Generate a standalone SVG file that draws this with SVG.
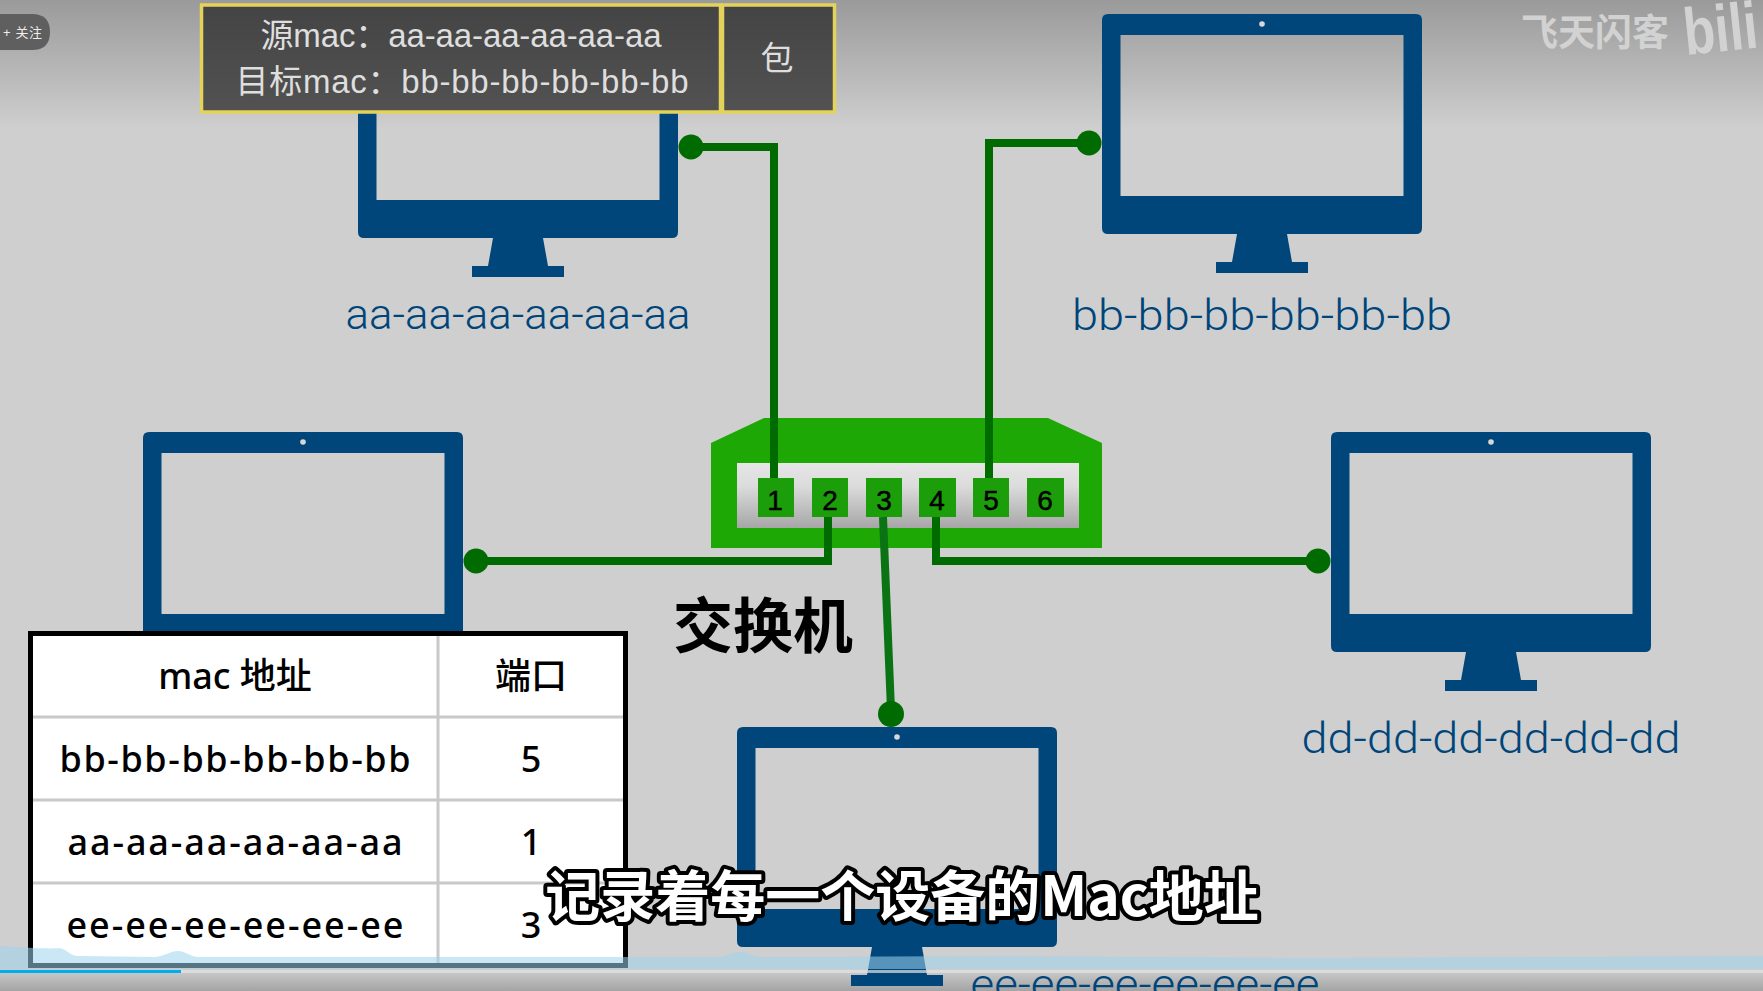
<svg xmlns="http://www.w3.org/2000/svg" width="1763" height="991" viewBox="0 0 1763 991">
<style>
.lbl{font-family:"Roboto","Liberation Sans",sans-serif;font-weight:300;font-size:43px;fill:#00457a;text-anchor:middle}
.cell{font-family:"Noto Sans","Noto Sans CJK SC",sans-serif;font-size:36px;font-weight:500;fill:#000;text-anchor:middle}
.pn{font-family:"Liberation Sans",sans-serif;font-size:28px;fill:#000;stroke:#000;stroke-width:0.500;text-anchor:middle}
.pk{font-family:"Liberation Sans","Noto Sans CJK SC",sans-serif;font-size:33px;fill:#dedede;text-anchor:middle}
.w{fill:none;stroke:#006b00;stroke-width:8}
.port{fill:#1b9e0a}
.dot{fill:#006b00}
.rule{stroke:#cac8c8;stroke-width:3;fill:none}
</style>
<defs>
<linearGradient id="bg" x1="0" y1="0" x2="0" y2="1"><stop offset="0" stop-color="#9a9a9a"/><stop offset="0.13" stop-color="#cfcfcf"/><stop offset="1" stop-color="#cfcfcf"/></linearGradient>
<linearGradient id="panel" x1="0" y1="0" x2="0" y2="1"><stop offset="0" stop-color="#e6e6e6"/><stop offset="0.35" stop-color="#dcdcdc"/><stop offset="1" stop-color="#a6a6a6"/></linearGradient>
<linearGradient id="box" x1="0" y1="0" x2="0" y2="1"><stop offset="0" stop-color="#444"/><stop offset="1" stop-color="#525252"/></linearGradient>
<linearGradient id="bar" x1="0" y1="0" x2="0" y2="1"><stop offset="0" stop-color="#d0d0d0"/><stop offset="1" stop-color="#a4a4a4"/></linearGradient>
<symbol id="mon" overflow="visible">
<path fill-rule="evenodd" fill="#00467a" d="M6 0H314Q320 0 320 6V214Q320 220 314 220H6Q0 220 0 214V6Q0 0 6 0ZM18.500 21V182H301.500V21Z"/>
<path fill="#00467a" d="M135 220H185L190 248H206V259H114V248H130Z"/>
<circle cx="160" cy="10" r="2.800" fill="#d8d8d8"/>
</symbol>
</defs>
<rect width="1763" height="991" fill="url(#bg)"/>
<rect y="968" width="1763" height="23" fill="url(#bar)"/>
<g id="watermark" fill="#d2d2d2">
<text x="1595" y="46" font-family="Noto Sans CJK SC,sans-serif" font-weight="700" font-size="37" text-anchor="middle">飞天闪客</text>
<text x="1686" y="55" font-family="Liberation Sans,sans-serif" font-weight="700" font-size="66" textLength="74" lengthAdjust="spacingAndGlyphs" transform="rotate(-6 1686 55)">bili</text>
</g>
<g id="mon-aa"><use href="#mon" x="358" y="18"/><text class="lbl" x="518" y="329" textLength="345" lengthAdjust="spacingAndGlyphs">aa-aa-aa-aa-aa-aa</text></g>
<g id="mon-bb"><use href="#mon" x="1102" y="14"/><text class="lbl" x="1262" y="330" textLength="380" lengthAdjust="spacingAndGlyphs">bb-bb-bb-bb-bb-bb</text></g>
<g id="mon-cc"><use href="#mon" x="143" y="432"/></g>
<g id="mon-dd"><use href="#mon" x="1331" y="432"/><text class="lbl" x="1491" y="753" textLength="379" lengthAdjust="spacingAndGlyphs">dd-dd-dd-dd-dd-dd</text></g>
<g id="mon-ee"><use href="#mon" x="737" y="727"/><text class="lbl" x="1145" y="999" textLength="349" lengthAdjust="spacingAndGlyphs">ee-ee-ee-ee-ee-ee</text></g>
<g id="switch">
<path fill="#1ea806" d="M711 443L764 418H1048L1102 443V548H711Z"/>
<rect x="737" y="463" width="342" height="65" fill="url(#panel)"/>
<rect class="port" x="758" y="478" width="36" height="39"/>
<rect class="port" x="812" y="478" width="36" height="39"/>
<rect class="port" x="866" y="478" width="36" height="39"/>
<rect class="port" x="919" y="478" width="37" height="39"/>
<rect class="port" x="973" y="478" width="36" height="39"/>
<rect class="port" x="1027" y="478" width="37" height="39"/>
<text class="pn" x="775" y="510">1</text><text class="pn" x="830" y="510">2</text><text class="pn" x="884" y="510">3</text><text class="pn" x="937" y="510">4</text><text class="pn" x="991" y="510">5</text><text class="pn" x="1045" y="510">6</text>
<text x="763" y="648" font-family="Noto Sans CJK SC,sans-serif" font-weight="700" font-size="60" text-anchor="middle" fill="#000">交换机</text>
</g>
<g id="connectors">
<path class="w" d="M691 147H774V478"/>
<circle class="dot" cx="691" cy="147" r="12.500"/>
<path class="w" d="M1089 143H989V478"/>
<circle class="dot" cx="1089" cy="143" r="12.500"/>
<path class="w" d="M476 561H828V517"/>
<circle class="dot" cx="476" cy="561" r="12.500"/>
<path class="w" d="M1318 561H936V517"/>
<circle class="dot" cx="1318" cy="561" r="12.500"/>
<path class="w" style="stroke:#0a7414" d="M883 517L891 710"/>
<circle class="dot" cx="891" cy="714" r="13"/>
</g>
<g id="packet">
<rect x="201.500" y="5" width="519" height="107" fill="url(#box)" stroke="#e3d35c" stroke-width="3.500"/>
<rect x="722.500" y="5" width="112" height="107" fill="url(#box)" stroke="#e3d35c" stroke-width="3.500"/>
<text class="pk" x="461" y="47" textLength="401">源mac：aa-aa-aa-aa-aa-aa</text>
<text class="pk" x="462" y="93" textLength="453">目标mac：bb-bb-bb-bb-bb-bb</text>
<text class="pk" x="777" y="70">包</text>
</g>
<g id="table">
<rect x="30.500" y="633.500" width="595" height="332" fill="#fff" stroke="#000" stroke-width="5"/>
<path class="rule" d="M438 636V963M33 717H623M33 800H623M33 883H623"/>
<text class="cell" x="235" y="689">mac 地址</text><text class="cell" x="531" y="689">端口</text>
<text class="cell" x="235" y="772" textLength="351">bb-bb-bb-bb-bb-bb</text><text class="cell" x="531" y="772">5</text>
<text class="cell" x="235" y="855" textLength="335">aa-aa-aa-aa-aa-aa</text><text class="cell" x="531" y="855">1</text>
<text class="cell" x="235" y="938" textLength="337">ee-ee-ee-ee-ee-ee</text><text class="cell" x="531" y="938">3</text>
</g>
<g id="player">
<path fill="#9fd4ee" fill-opacity="0.55" d="M0 946C30 948 50 949 60 948C68 950 70 956 78 956L155 957C165 956 170 951 178 951C186 951 190 957 198 957L720 957C730 955 735 951 745 952C750 955 755 957 765 957L1000 956L1300 958L1763 956V969H0Z"/>
<rect y="970" width="1763" height="3" fill="#e4e4e4" fill-opacity="0.7"/>
<rect y="970" width="181" height="3" fill="#00aeec"/>
</g>
<g id="follow">
<path d="M0 14H32Q50 14 50 32Q50 50 32 50H0Z" fill="#5f5f5f"/>
<text x="3" y="37" font-family="Liberation Sans,Noto Sans CJK SC,sans-serif" font-size="13" textLength="39" fill="#eee">+ 关注</text>
</g>
<text id="subtitle" x="902" y="916" font-family="Noto Sans CJK SC,sans-serif" font-weight="700" font-size="55" text-anchor="middle" fill="#fff" stroke="#000" stroke-width="8" stroke-linejoin="round" paint-order="stroke">记录着每一个设备的Mac地址</text>
</svg>
